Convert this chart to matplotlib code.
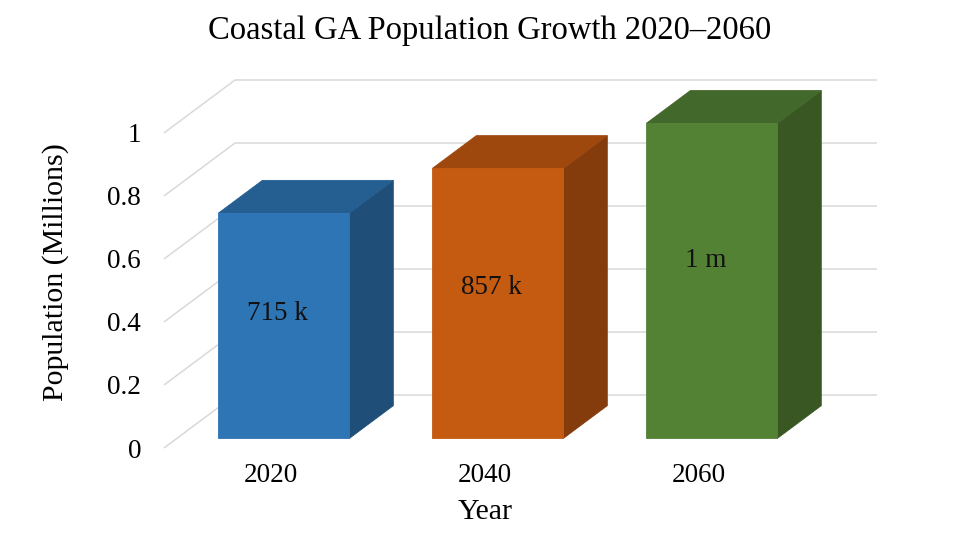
import numpy as np
import matplotlib.pyplot as plt
from matplotlib.patches import Polygon

years = ['2020', '2040', '2060']
population = [0.715, 0.857, 1.0]  # millions
bar_labels = ['715 k', '857 k', '1 m']
yticks = [0, 0.2, 0.4, 0.6, 0.8, 1.0]
ytick_labels = ['0', '0.2', '0.4', '0.6', '0.8', '1']

front_colors = ['#2E75B6', '#C55A11', '#548235']
top_colors = ['#255E91', '#9E480E', '#43682B']
side_colors = ['#1F4E79', '#843C0C', '#385723']

# oblique depth of the plot box in data units (x: category slots, y: millions)
DX, DY = 0.332, 0.168
BAR_W = 0.612
D0, D1 = 0.18, 0.80  # front / back of the bars as fraction of depth

plt.rcParams['font.family'] = ['Liberation Serif', 'DejaVu Serif']

fig = plt.figure(figsize=(9.6, 5.48), dpi=100)
ax = fig.add_axes([164 / 960, 1 - 448 / 548, 713 / 960, 368 / 548])
n = len(years)
ax.set_xlim(0, n + DX)
ax.set_ylim(0, 1 + DY)

# gridlines on the side wall and the back wall
for v in yticks:
    ax.plot([0, DX, n + DX], [v, v + DY, v + DY], color='#d9d9d9',
            lw=1.1, zorder=1, clip_on=False, solid_capstyle='butt')

ox0, oy0 = D0 * DX, D0 * DY
ox1, oy1 = D1 * DX, D1 * DY
for i, v in enumerate(population):
    x0 = i + 0.5 - BAR_W / 2
    x1 = x0 + BAR_W
    front = [(x0 + ox0, oy0), (x1 + ox0, oy0), (x1 + ox0, v + oy0), (x0 + ox0, v + oy0)]
    top = [(x0 + ox0, v + oy0), (x1 + ox0, v + oy0), (x1 + ox1, v + oy1), (x0 + ox1, v + oy1)]
    side = [(x1 + ox0, oy0), (x1 + ox1, oy1), (x1 + ox1, v + oy1), (x1 + ox0, v + oy0)]
    for pts, c in [(side, side_colors[i]), (top, top_colors[i]), (front, front_colors[i])]:
        ax.add_patch(Polygon(pts, closed=True, facecolor=c, edgecolor=c,
                             lw=0.6, zorder=3, clip_on=False))
    ax.text(i + 0.53, v * 0.59 + 0.005, bar_labels[i], ha='center', va='center',
            fontsize=19.5, color='#111111', zorder=5)

ax.set_yticks(yticks, ytick_labels)
ax.set_xticks(np.arange(n) + 0.5, years)
ax.tick_params(axis='y', length=0, pad=16.5, labelsize=19.5)
ax.tick_params(axis='x', length=0, pad=11, labelsize=19.5)
for s in ax.spines.values():
    s.set_visible(False)
ax.patch.set_visible(False)

fig.text(485 / 960, 1 - 519 / 548, 'Year', ha='center', va='baseline', fontsize=21.5)
fig.text(56 / 960, 1 - 272 / 548, 'Population (Millions)', rotation=90,
         ha='center', va='center', fontsize=21.5)
fig.text(490 / 960, 1 - 39 / 548, 'Coastal GA Population Growth 2020\u20132060',
         ha='center', va='baseline', fontsize=23.5)

fig.savefig('out.png', dpi=100)
